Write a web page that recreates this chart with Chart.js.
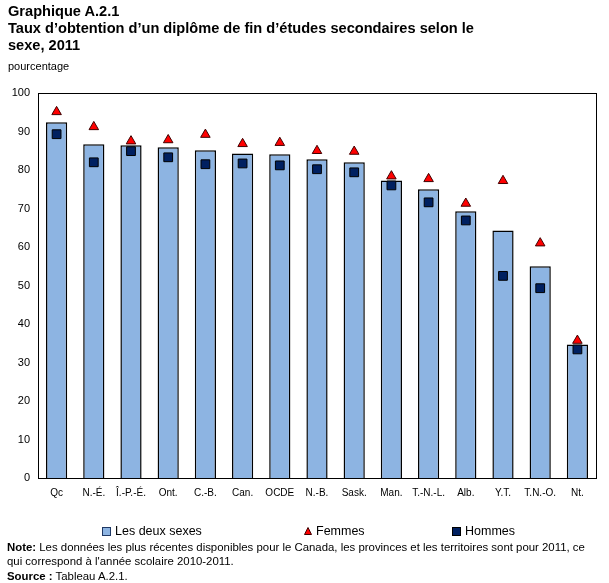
<!DOCTYPE html>
<html>
<head>
<meta charset="utf-8">
<script src="https://cdn.jsdelivr.net/npm/chart.js@4.4.0/dist/chart.umd.min.js"></script>
<style>
  body { margin: 0; background: #fff; font-family: "Liberation Sans", Arial, sans-serif; }
  #wrap { position: relative; width: 609px; height: 583px; overflow: hidden; }
  #chart { position: absolute; left: 0; top: 0; }
  .txt { position: absolute; color: #000; white-space: nowrap; }
  #title { left: 8px; top: 3px; font-size: 14.6px; font-weight: bold; line-height: 17px; }
  #unit { left: 8px; top: 60px; font-size: 11px; }
  .leg { position: absolute; top: 524px; font-size: 12.5px; display: flex; align-items: center; }
  .sw { display: inline-block; margin-right: 4px; }
  #note { left: 7px; top: 540px; font-size: 11.4px; line-height: 14px; }
  #src { left: 7px; top: 570px; font-size: 11.4px; }
</style>
</head>
<body>
<div id="wrap">
  <canvas id="chart" width="609" height="583"></canvas>
  <div class="txt" id="title">Graphique A.2.1<br>Taux d’obtention d’un diplôme de fin d’études secondaires selon le<br>sexe, 2011</div>
  <div class="txt" id="unit">pourcentage</div>
  <div class="leg" style="left:102px"><span class="sw" style="width:7px;height:7px;background:#8DB4E2;border:1px solid #1F3864"></span>Les deux sexes</div>
  <div class="leg" style="left:304px"><svg class="sw" width="8" height="8"><polygon points="4,0.5 7.5,7.5 0.5,7.5" fill="#FF0000" stroke="#400000" stroke-width="1"/></svg>Femmes</div>
  <div class="leg" style="left:452px"><span class="sw" style="width:7px;height:7px;background:#002060;border:1px solid #000"></span>Hommes</div>
  <div class="txt" id="note"><b>Note:</b> Les données les plus récentes disponibles pour le Canada, les provinces et les territoires sont pour 2011, ce<br>qui correspond à l'année scolaire 2010-2011.</div>
  <div class="txt" id="src"><b>Source :</b> Tableau A.2.1.</div>
</div>
<script>
const categories = ["Qc", "N.-É.", "Î.-P.-É.", "Ont.", "C.-B.", "Can.", "OCDE", "N.-B.", "Sask.", "Man.", "T.-N.-L.", "Alb.", "Y.T.", "T.N.-O.", "Nt."];
const lesDeuxSexes = [92.4, 86.7, 86.4, 85.9, 85.1, 84.3, 84.1, 82.8, 82.0, 77.3, 75.0, 69.3, 64.3, 55.0, 34.7];
const femmes = [95.1, 91.2, 87.5, 87.8, 89.2, 86.8, 87.1, 85.0, 84.8, 78.4, 77.7, 71.3, 77.2, 61.0, 35.7];
const hommes = [89.3, 82.0, 84.9, 83.3, 81.5, 81.7, 81.2, 80.2, 79.4, 76.0, 71.6, 66.9, 52.5, 49.3, 33.4];
const yTicks = [0, 10, 20, 30, 40, 50, 60, 70, 80, 90, 100];

/* frame around plot area */
const frame = {
  id: "frame",
  afterDatasetsDraw(chart) {
    const a = chart.chartArea;
    const ctx = chart.ctx;
    ctx.save();
    ctx.strokeStyle = "#000";
    ctx.lineWidth = 1;
    ctx.strokeRect(Math.round(a.left) + 0.5, Math.round(a.top) + 0.5, Math.round(a.right - a.left), Math.round(a.bottom - a.top));
    ctx.restore();
  }
};

new Chart(document.getElementById("chart"), {
  data: {
    labels: categories,
    datasets: [
      {
        type: "line",
        label: "Hommes",
        data: hommes,
        showLine: false,
        pointStyle: "rect",
        pointRadius: 6.2,
        pointBackgroundColor: "#002060",
        pointBorderColor: "#000",
        pointBorderWidth: 1
      },
      {
        type: "line",
        label: "Femmes",
        data: femmes,
        showLine: false,
        pointStyle: "triangle",
        pointRadius: 5.5,
        pointBackgroundColor: "#FF0000",
        pointBorderColor: "#400000",
        pointBorderWidth: 1
      },
      {
        type: "bar",
        label: "Les deux sexes",
        data: lesDeuxSexes,
        backgroundColor: "#8DB4E2",
        borderColor: "#000",
        borderWidth: 1.5,
        barPercentage: 0.57,
        categoryPercentage: 1
      }
    ]
  },
  options: {
    responsive: false,
    animation: false,
    layout: { padding: { top: 93, right: 13, bottom: 83, left: 0 } },
    plugins: { legend: { display: false }, tooltip: { enabled: false } },
    scales: {
      x: {
        grid: { display: false, drawTicks: false },
        border: { color: "#000", width: 1 },
        ticks: { color: "#000", font: { family: "Liberation Sans", size: 10 }, maxRotation: 0, autoSkip: false, padding: 9 },
        afterFit(s) { s.height = 22; }
      },
      y: {
        min: 0,
        max: 100,
        afterBuildTicks(s) { s.ticks = yTicks.map(v => ({ value: v })); },
        grid: { display: false, drawTicks: false },
        border: { color: "#000", width: 1 },
        ticks: { color: "#000", font: { family: "Liberation Sans", size: 11 }, padding: 8 },
        afterFit(s) { s.width = 38; }
      }
    }
  },
  plugins: [frame]
});
</script>
</body>
</html>
